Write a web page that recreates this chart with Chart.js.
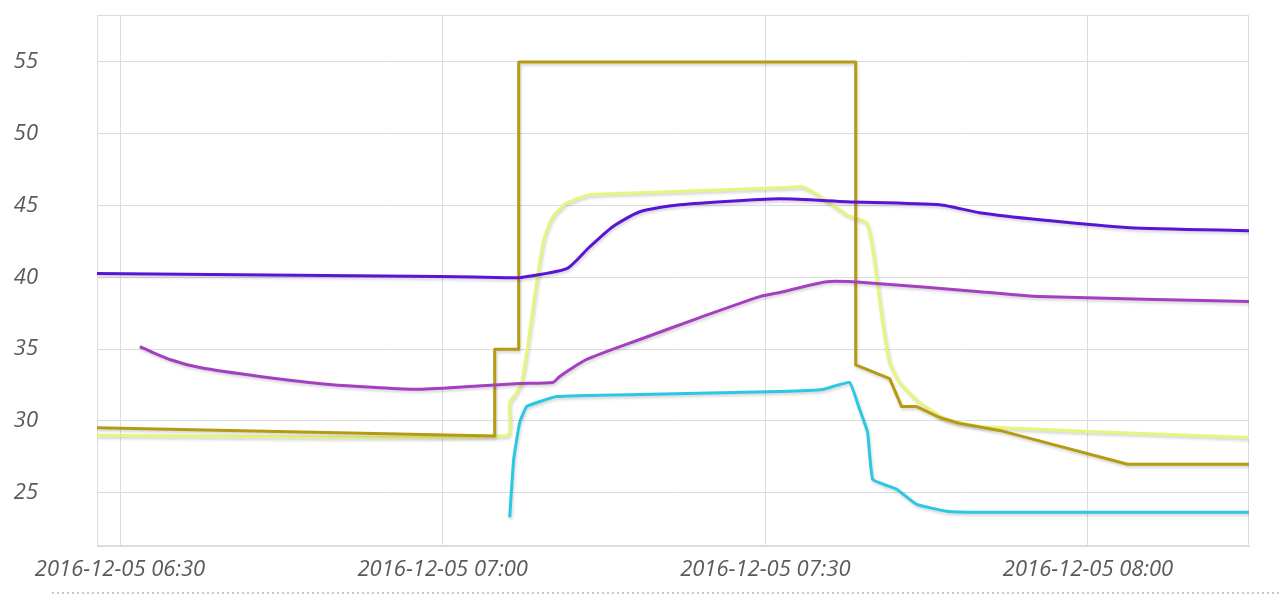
<!DOCTYPE html>
<html>
<head>
<meta charset="utf-8">
<script src="https://cdn.jsdelivr.net/npm/chart.js@4/dist/chart.umd.min.js"></script>
<style>
  html, body { margin: 0; padding: 0; background: #fff; }
  #wrap { position: relative; width: 1280px; height: 602px; overflow: hidden; }
  #dots {
    position: absolute; left: 52px; right: 0; top: 592px; height: 2px;
    background-image: linear-gradient(to right, #c8c8c8 2px, transparent 2px);
    background-size: 5px 2px;
  }
</style>
</head>
<body>
<div id="wrap">
  <canvas id="chart" width="1280" height="602"></canvas>
  <div id="dots"></div>
</div>
<script>
// minutes after 2016-12-05 06:30
const xMin = -2.14;
const xMax = 104.97;
const xTicks = [0, 30, 60, 90];
const yTicks = [25, 30, 35, 40, 45, 50, 55];

const oliveTime  = [-2.14, 34.84, 34.84, 37.07, 37.07, 68.4, 68.4, 71.56, 72.67, 74.07, 76.2, 78.06, 81.78, 93.68, 104.97];
const oliveValue = [29.53, 28.95, 35.0, 35.0, 55.0, 55.0, 33.9, 32.95, 31.0, 31.0, 30.24, 29.83, 29.34, 26.98, 26.98];

const yellowTime  = [-2.14, 36.04, 36.23, 36.88, 37.35, 37.9, 38.55, 39.02, 39.48, 40.23, 41.53, 43.67, 48.32, 61.33, 63.38, 64.4, 65.98, 67.56, 69.42, 69.89, 70.35, 70.91, 71.56, 72.49, 74.35, 76.86, 79.93, 81.79, 90.06, 104.97];
const yellowValue = [29.0, 28.99, 31.28, 31.98, 32.68, 35.18, 38.66, 41.02, 42.83, 44.22, 45.19, 45.75, 45.89, 46.24, 46.31, 45.96, 45.19, 44.36, 43.8, 42.41, 40.05, 36.85, 34.07, 32.68, 31.29, 30.1, 29.62, 29.55, 29.27, 28.85];

const purpleTime  = [-2.14, 29.72, 35.95, 37.16, 41.53, 43.67, 45.81, 48.32, 52.04, 61.33, 67.56, 76.21, 79.93, 85.51, 93.88, 104.97];
const purpleValue = [40.26, 40.05, 39.98, 39.98, 40.6, 42.13, 43.53, 44.57, 45.06, 45.47, 45.27, 45.06, 44.5, 44.01, 43.46, 43.25];

const magentaTime  = [1.84, 4.63, 7.42, 13, 19.5, 27.4, 32.5, 37.16, 40.23, 40.88, 43.39, 48.32, 53.9, 59.48, 61.33, 65.7, 69.42, 79.93, 85.51, 104.97];
const magentaValue = [35.18, 34.28, 33.72, 33.1, 32.54, 32.2, 32.4, 32.61, 32.68, 33.1, 34.28, 35.67, 37.2, 38.66, 38.94, 39.7, 39.63, 39.0, 38.66, 38.31];

const cyanTime  = [36.23, 36.6, 37.16, 37.81, 40.6, 48.32, 61.33, 65.33, 67.84, 68.77, 69.51, 69.98, 72.21, 74.07, 76.86, 79.93, 104.97];
const cyanValue = [23.29, 27.32, 29.9, 31.0, 31.7, 31.84, 32.05, 32.19, 32.68, 30.8, 29.2, 25.93, 25.24, 24.19, 23.71, 23.64, 23.64];

function pts(t, v) {
    return t.map((x, i) => ({ x: x, y: v[i] }));
}

function label(m) {
    const total = 6 * 60 + 30 + m;
    const h = String(Math.floor(total / 60)).padStart(2, '0');
    const mm = String(Math.round(total % 60)).padStart(2, '0');
    return '2016-12-05 ' + h + ':' + mm;
}

const gridColor = '#dcdcdc';
const tickFont = { family: "'Open Sans'", size: 22, style: 'italic' };

// soft shadow under the lines
const shadowPlugin = {
    id: 'shadow',
    beforeDatasetDraw(chart) {
        const ctx = chart.ctx;
        ctx.save();
        ctx.shadowColor = 'rgba(0,0,0,0.18)';
        ctx.shadowBlur = 3;
        ctx.shadowOffsetX = 1;
        ctx.shadowOffsetY = 2;
    },
    afterDatasetDraw(chart) {
        chart.ctx.restore();
    }
};

// frame around the plot area
const framePlugin = {
    id: 'frame',
    beforeDatasetsDraw(chart) {
        const a = chart.chartArea;
        const ctx = chart.ctx;
        ctx.save();
        ctx.strokeStyle = gridColor;
        ctx.lineWidth = 1;
        ctx.strokeRect(a.left + 0.5, a.top + 0.5, a.right - a.left - 1, a.bottom - a.top - 1);
        ctx.restore();
    }
};

function line(data, color, tension) {
    return {
        data: data,
        borderColor: color,
        borderWidth: 3,
        pointRadius: 0,
        fill: false,
        tension: tension,
        borderJoinStyle: 'round'
    };
}

const chart = document.querySelector('#chart').getContext('2d');

new Chart(chart, {
    type: 'line',
    data: {
        datasets: [
            line(pts(magentaTime, magentaValue), '#a43fc2', 0.2),
            line(pts(purpleTime, purpleValue), '#5a14d6', 0.2),
            line(pts(cyanTime, cyanValue), '#2ac8e4', 0.1),
            line(pts(oliveTime, oliveValue), '#b49b12', 0),
            line(pts(yellowTime, yellowValue), '#e6f57c', 0.15)
        ]
    },
    options: {
        responsive: false,
        animation: false,
        layout: { padding: { left: 0, top: 15, right: 31, bottom: 0 } },
        plugins: {
            legend: { display: false },
            tooltip: { enabled: false }
        },
        scales: {
            x: {
                type: 'linear',
                min: xMin,
                max: xMax,
                afterFit: (s) => { s.height = 56; s.paddingLeft = 0; s.paddingRight = 0; },
                afterBuildTicks: (s) => { s.ticks = xTicks.map(v => ({ value: v })); },
                grid: { color: gridColor, drawTicks: false },
                border: { color: gridColor },
                ticks: {
                    padding: 11,
                    maxRotation: 0,
                    color: '#5a5a5a',
                    font: tickFont,
                    callback: (v) => label(v)
                }
            },
            y: {
                min: 21.29,
                max: 58.27,
                afterFit: (s) => { s.width = 97; s.paddingTop = 0; s.paddingBottom = 0; },
                afterBuildTicks: (s) => { s.ticks = yTicks.map(v => ({ value: v })); },
                grid: { color: gridColor, drawTicks: false },
                border: { color: gridColor },
                ticks: {
                    padding: 59,
                    color: '#5a5a5a',
                    font: tickFont
                }
            }
        }
    },
    plugins: [shadowPlugin, framePlugin]
});
</script>
</body>
</html>
